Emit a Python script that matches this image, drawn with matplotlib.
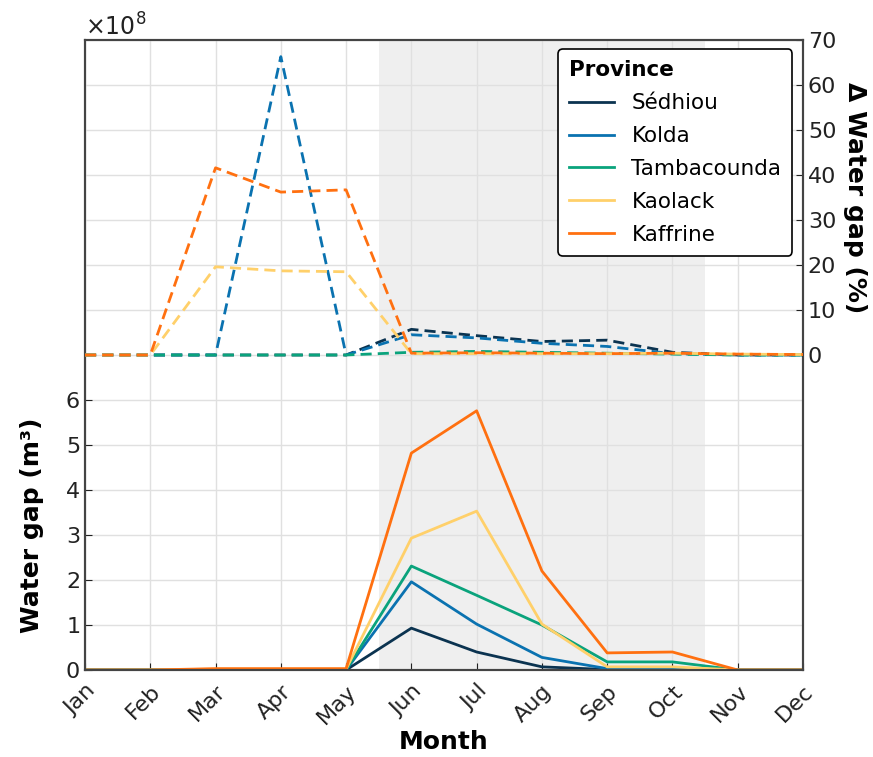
import numpy as np
import matplotlib
matplotlib.use("Agg")
import matplotlib.pyplot as plt

months = ["Jan", "Feb", "Mar", "Apr", "May", "Jun", "Jul", "Aug", "Sep", "Oct", "Nov", "Dec"]
provinces = ["Sédhiou", "Kolda", "Tambacounda", "Kaolack", "Kaffrine"]
colors = ["#0b3350", "#0a72b0", "#0aa37c", "#ffd06a", "#ff7010"]

# water gap, x1e8 m3
gap_sedhiou = [0, 0, 0, 0, 0, 0.93, 0.40, 0.07, 0.01, 0.0, 0, 0]
gap_kolda = [0, 0, 0, 0, 0, 1.96, 1.02, 0.28, 0.03, 0.02, 0, 0]
gap_tamba = [0, 0, 0, 0, 0, 2.31, 1.66, 1.0, 0.18, 0.18, 0, 0]
gap_kaolack = [0, 0, 0.02, 0.02, 0.02, 2.93, 3.53, 1.02, 0.07, 0.07, 0, 0]
gap_kaffrine = [0, 0, 0.03, 0.03, 0.03, 4.82, 5.76, 2.2, 0.38, 0.40, 0, 0]

# delta water gap, %
dgap_sedhiou = [0, 0, 0, 0, 0, 5.7, 4.3, 3.0, 3.3, 0.6, 0, 0]
dgap_kolda = [0, 0, 0, 66.3, 0, 4.5, 3.8, 2.6, 1.9, 0.3, 0, 0]
dgap_tamba = [0, 0, 0, 0, 0, 0.6, 0.8, 0.6, 0.4, 0.2, 0, 0]
dgap_kaolack = [0, 0, 19.6, 18.7, 18.5, 0.3, 0.3, 0.3, 0.3, 0.4, 0.2, 0.1]
dgap_kaffrine = [0, 0, 41.6, 36.2, 36.7, 0.4, 0.5, 0.4, 0.3, 0.4, 0.2, 0.1]

gaps = [gap_sedhiou, gap_kolda, gap_tamba, gap_kaolack, gap_kaffrine]
dgaps = [dgap_sedhiou, dgap_kolda, dgap_tamba, dgap_kaolack, dgap_kaffrine]

x = np.arange(len(months))

fig = plt.figure(figsize=(8.73, 7.57), dpi=100)
ax = fig.add_axes([85/873, 87/757, 718/873, 630/757])
ax2 = ax.twinx()

ax.axvspan(4.5, 9.5, color="#efefef", zorder=0, lw=0)

for name, c, g in zip(provinces, colors, gaps):
    ax.plot(x, np.array(g) * 1e8, color=c, lw=2, label=name, zorder=3)
for name, c, d in zip(provinces, colors, dgaps):
    ax2.plot(x, d, color=c, lw=2, ls=(0, (4, 2.2)), zorder=3)

ax.set_xlim(0, 11)
ax.set_ylim(0, 14e8)
ax.set_yticks(np.arange(0, 7) * 1e8)
ax.ticklabel_format(axis="y", style="sci", scilimits=(8, 8), useMathText=True)
ax.yaxis.get_offset_text().set_fontsize(17)
ax2.set_ylim(-70, 70)
ax2.set_yticks(np.arange(0, 71, 10))

ax.set_xticks(x)
ax.set_xticklabels(months, rotation=45, ha="right", rotation_mode="anchor")

ax.grid(True, color="#e0e0e0", lw=1)
ax2.grid(True, color="#e0e0e0", lw=1)
ax.set_axisbelow(True)
ax2.set_axisbelow(True)

for a in (ax, ax2):
    a.tick_params(direction="in", length=5, labelsize=16, colors="#222222")
    for s in a.spines.values():
        s.set_color("#444444")
        s.set_linewidth(1.5)
ax.tick_params(axis="x", pad=8)

ax.set_xlabel("Month", fontsize=18, fontweight="bold", labelpad=2)
ax.set_ylabel("Water gap (m³)", fontsize=18, fontweight="bold", y=0.23, labelpad=15)
ax2.set_ylabel("Δ Water gap (%)", fontsize=18, fontweight="bold", rotation=270,
               labelpad=22, y=0.75)

leg = ax2.legend(*ax.get_legend_handles_labels(), title="Province", loc="upper right",
                 fontsize=15.5, frameon=True, fancybox=True, edgecolor="black",
                 bbox_to_anchor=(0.985, 0.985), borderaxespad=0, handlelength=2.1,
                 handletextpad=0.8, labelspacing=0.6, borderpad=0.5)
leg.get_title().set_fontweight("bold")
leg.get_title().set_fontsize(15.5)
leg._legend_box.align = "left"
leg.get_frame().set_linewidth(1.2)
leg.get_frame().set_alpha(1)

fig.savefig("out.png", dpi=100)
